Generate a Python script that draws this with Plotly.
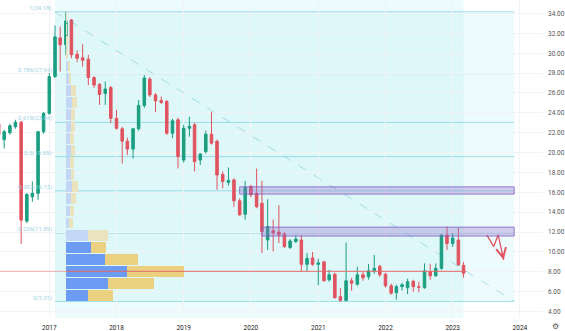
import pandas as pd
import plotly.graph_objects as go
from datetime import datetime

# ---------------- data ----------------
months = pd.date_range("2016-04-01", periods=84, freq="MS")

opens = [
    22.9, 21.3, 22.0, 22.6, 23.05, 13.1, 15.55, 15.9, 22.1,
    23.95, 27.65, 31.55, 30.85, 33.35, 29.9, 29.55, 29.4, 27.55, 26.85, 25.95, 26.55,
    23.45, 22.4, 21.15, 20.35, 22.4, 24.75, 27.4, 25.8, 25.25, 25.15, 21.95, 23.3,
    19.25, 22.45, 22.8, 19.25, 20.1, 21.85, 21.15, 17.8, 17.0, 17.25, 15.15, 13.8,
    16.6, 15.9, 14.9, 11.2, 12.15, 12.0, 11.8, 10.45, 11.05, 11.2, 8.75, 9.4,
    8.75, 9.0, 7.2, 7.75, 5.5, 5.1, 7.1, 6.75, 7.7, 7.5, 8.1, 8.55,
    7.75, 6.6, 5.9, 6.5, 6.4, 7.05, 6.5, 6.4, 8.0, 7.6, 8.35, 11.7,
    10.85, 11.2, 8.65]
highs = [
    23.4, 22.3, 22.9, 23.3, 23.2, 15.9, 17.1, 22.2, 24.1,
    28.0, 32.8, 32.7, 34.18, 33.45, 30.3, 30.9, 29.85, 27.7, 27.0, 27.15, 26.7,
    24.3, 22.6, 21.5, 22.5, 25.3, 27.8, 27.6, 26.0, 25.65, 25.3, 23.4, 23.5,
    22.8, 23.6, 23.0, 19.95, 22.2, 24.1, 21.3, 18.1, 18.5, 17.4, 15.4, 17.15,
    16.75, 18.4, 17.15, 15.3, 13.25, 14.7, 12.0, 11.3, 11.7, 11.7, 9.9, 10.0,
    9.3, 9.1, 8.2, 7.9, 6.35, 10.95, 7.4, 8.5, 8.0, 8.8, 9.7, 8.7,
    7.9, 6.8, 6.7, 6.9, 7.3, 7.2, 7.0, 8.85, 8.8, 8.85, 11.8, 12.55,
    11.9, 12.45, 9.0]
lows = [
    21.5, 20.4, 21.8, 22.4, 10.8, 12.9, 15.05, 15.25, 21.9,
    23.8, 27.5, 28.15, 29.8, 29.5, 29.1, 28.65, 26.8, 26.5, 24.8, 24.8, 22.95,
    22.3, 18.9, 19.75, 19.4, 22.2, 24.5, 25.6, 24.1, 24.9, 21.8, 21.45, 18.4,
    19.0, 21.6, 18.1, 18.75, 19.9, 20.8, 16.25, 16.4, 16.7, 14.55, 13.6, 13.25,
    15.5, 14.4, 9.9, 10.2, 10.05, 10.9, 10.4, 10.3, 10.9, 8.05, 8.05, 8.6,
    6.65, 7.0, 7.0, 5.3, 5.01, 5.05, 6.1, 6.6, 7.1, 7.2, 7.8, 7.5,
    6.4, 5.7, 5.2, 6.1, 5.75, 6.0, 5.95, 6.3, 7.2, 7.5, 8.2, 10.2,
    10.5, 8.6, 7.4]
closes = [
    21.8, 22.1, 22.7, 23.05, 13.2, 15.8, 15.9, 22.1, 23.95,
    27.65, 31.65, 30.85, 33.25, 29.85, 29.5, 29.3, 27.55, 26.8, 25.85, 26.4, 23.45,
    22.45, 21.15, 20.35, 22.4, 24.75, 27.5, 25.8, 25.2, 25.05, 21.95, 23.2, 19.6,
    22.45, 22.65, 19.1, 19.85, 21.85, 20.95, 17.75, 17.1, 17.2, 15.15, 13.75, 16.5,
    15.75, 14.55, 12.05, 12.55, 11.9, 11.7, 10.55, 11.1, 11.3, 8.75, 9.35, 8.75,
    8.9, 7.1, 7.7, 5.4, 5.1, 7.1, 6.85, 7.7, 7.4, 8.1, 8.35, 7.7,
    6.6, 5.85, 6.5, 6.7, 7.0, 6.5, 6.45, 8.1, 7.6, 8.35, 11.7, 10.85,
    11.4, 8.7, 7.85]

# Fibonacci retracement
fib_high = 34.18
fib_low = 5.01
fib_ratios = [1, 0.786, 0.618, 0.5, 0.382, 0.236, 0]
fib_start = "2017-02-01"
fib_end = "2023-12-01"

# Fixed range volume profile (24 rows from fib_low to fib_high)
vp_start = "2017-02-01"
vp_bar_start = "2017-04-01"
vp_end = "2023-03-01"
vp_up = [21.7, 42.3, 60.7, 39.3, 24.7, 22.3, 3.3, 4, 5, 6, 4.7, 4, 4.7, 4, 5, 4.7, 6, 5,
         2.5, 2, 0.8, 0.6, 0.5, 0.4]
vp_down = [25.7, 45.7, 57.3, 32.7, 15.3, 20, 4, 4, 5, 6, 3.3, 4, 4, 4, 4.3, 4.7, 5.3, 5,
           2, 1.5, 0.6, 0.5, 0.4, 0.3]
va_low_row, va_high_row = 0, 4
poc_end = "2023-03-15"

# zones (rectangles)
zone_starts = ["2019-11-01", "2020-03-01"]
zone_ends = ["2023-12-01", "2023-12-01"]
zone_lows = [15.82, 11.6]
zone_highs = [16.55, 12.5]

# projected path (arrow)
path_dates = ["2023-07-05", "2023-08-12", "2023-09-05", "2023-10-05"]
path_prices = [11.72, 10.54, 11.72, 9.2]

# ---------------- helpers ----------------
def dyear(t):
    y = int(t)
    a, b = datetime(y, 1, 1), datetime(y + 1, 1, 1)
    return a + (b - a) * (t - y)

UP = "#1b9e80"
DOWN = "#e0535f"
CYAN_FILL = "rgba(0,188,212,0.065)"
FIB_LINE = "rgba(0,172,193,0.32)"

fig = go.Figure()

fig.add_trace(go.Candlestick(
    x=months, open=opens, high=highs, low=lows, close=closes,
    increasing=dict(line=dict(color=UP, width=1), fillcolor=UP),
    decreasing=dict(line=dict(color=DOWN, width=1), fillcolor=DOWN),
    whiskerwidth=0, showlegend=False, hoverinfo="skip",
))

# volume profile
nrows = len(vp_up)
row_h = (fib_high - fib_low) / nrows
row_mid = [fib_low + (i + 0.5) * row_h for i in range(nrows)]
in_va = [va_low_row <= i <= va_high_row for i in range(nrows)]
up_cols = ["#6b9bf2" if v else "#c3d6f6" for v in in_va]
dn_cols = ["#ebd07f" if v else "#ebe3bd" for v in in_va]

fig.add_trace(go.Bar(x=vp_up, y=row_mid, orientation="h", base=0, width=row_h * 0.9,
                     marker=dict(color=up_cols, line=dict(width=0)),
                     xaxis="x2", yaxis="y", showlegend=False, hoverinfo="skip"))
fig.add_trace(go.Bar(x=vp_down, y=row_mid, orientation="h", base=vp_up, width=row_h * 0.9,
                     marker=dict(color=dn_cols, line=dict(width=0)),
                     xaxis="x2", yaxis="y", showlegend=False, hoverinfo="skip"))

# projected path
fig.add_trace(go.Scatter(x=path_dates, y=path_prices, mode="lines",
                         line=dict(color=DOWN, width=1.3), showlegend=False, hoverinfo="skip"))

shapes = []
# volume profile background
shapes.append(dict(type="rect", xref="x", yref="paper", x0=vp_start, x1=vp_end, y0=0, y1=1,
                   fillcolor=CYAN_FILL, line=dict(width=0), layer="below"))
# fib background
shapes.append(dict(type="rect", xref="x", yref="y", x0=fib_start, x1=fib_end,
                   y0=fib_low, y1=fib_high, fillcolor=CYAN_FILL, line=dict(width=0), layer="below"))
annotations = []
for r in fib_ratios:
    p = fib_low + r * (fib_high - fib_low)
    shapes.append(dict(type="line", xref="x", yref="y", x0=fib_start, x1=fib_end, y0=p, y1=p,
                       line=dict(color=FIB_LINE, width=1), layer="below"))
    annotations.append(dict(x=fib_start, y=p, xref="x", yref="y", text=f"{r:g}({p:.2f})",
                            showarrow=False, xanchor="right", yanchor="bottom", xshift=-1,
                            yshift=-2, font=dict(size=6, color="#9fd3e3", family="Roboto")))
# trend line of the fib
shapes.append(dict(type="line", xref="x", yref="y", x0=fib_start, y0=fib_high, x1=fib_end, y1=fib_low,
                   line=dict(color="rgba(0,150,180,0.28)", width=1, dash="dash"), layer="above"))

# POC line
poc_i = max(range(nrows), key=lambda i: vp_up[i] + vp_down[i])
poc_p = row_mid[poc_i]
x_left = dyear(2016.2684)
x_right = dyear(2024.343)
shapes.append(dict(type="line", xref="x", yref="y", x0=x_left, x1=vp_bar_start, y0=poc_p, y1=poc_p,
                   line=dict(color="rgba(229,115,115,0.55)", width=1), layer="above"))
shapes.append(dict(type="line", xref="x", yref="y", x0=vp_bar_start, x1=poc_end, y0=poc_p, y1=poc_p,
                   line=dict(color="#e06a6a", width=1), layer="above"))

# zones
for x0, x1, y0, y1 in zip(zone_starts, zone_ends, zone_lows, zone_highs):
    shapes.append(dict(type="rect", xref="x", yref="y", x0=x0, x1=x1, y0=y0, y1=y1,
                       fillcolor="rgba(149,117,205,0.35)",
                       line=dict(color="rgba(126,87,194,0.75)", width=1), layer="above"))

# arrow head on the last point (tail offset in pixels along the last segment)
annotations.append(dict(x=path_dates[-1], y=path_prices[-1], xref="x", yref="y",
                        ax=-2, ay=-9, showarrow=True, text="",
                        arrowhead=5, arrowsize=1.5, arrowwidth=1.3, arrowcolor=DOWN))
# gear icon
annotations.append(dict(x=555 / 543, y=-8 / 318, xref="paper", yref="paper", text="⚙",
                        showarrow=False, font=dict(size=8, color="#555"),
                        xanchor="center", yanchor="middle"))

vp_max = max(u + d for u, d in zip(vp_up, vp_down))
vp_start_frac = 66 / 543
vp_max_frac = 118 / 543
units = vp_max / vp_max_frac

fig.update_layout(
    width=565, height=331,
    margin=dict(l=0, r=22, t=0, b=13),
    paper_bgcolor="white", plot_bgcolor="white",
    font=dict(family="Roboto, Liberation Sans, sans-serif"),
    bargap=0, barmode="overlay",
    xaxis=dict(type="date", range=[x_left, x_right], tickformat="%Y", dtick="M12",
               tick0="2017-01-01", showgrid=True, gridcolor="#f2f3f5", gridwidth=1,
               zeroline=False, showline=False, ticks="",
               tickfont=dict(size=6.5, color="#222"), rangeslider=dict(visible=False),
               ticklabelstandoff=4, fixedrange=True),
    xaxis2=dict(overlaying="x", range=[-vp_start_frac * units, (1 - vp_start_frac) * units],
                visible=False, fixedrange=True),
    yaxis=dict(side="right", range=[3.35, 35.36], dtick=2, tick0=0, tickformat=".2f",
               showgrid=True, gridcolor="#f2f3f5", zeroline=False, showline=False, ticks="",
               tickfont=dict(size=6.5, color="#555"), ticklabelstandoff=4, fixedrange=True),
    shapes=shapes, annotations=annotations,
)

fig.write_html("out.html")
